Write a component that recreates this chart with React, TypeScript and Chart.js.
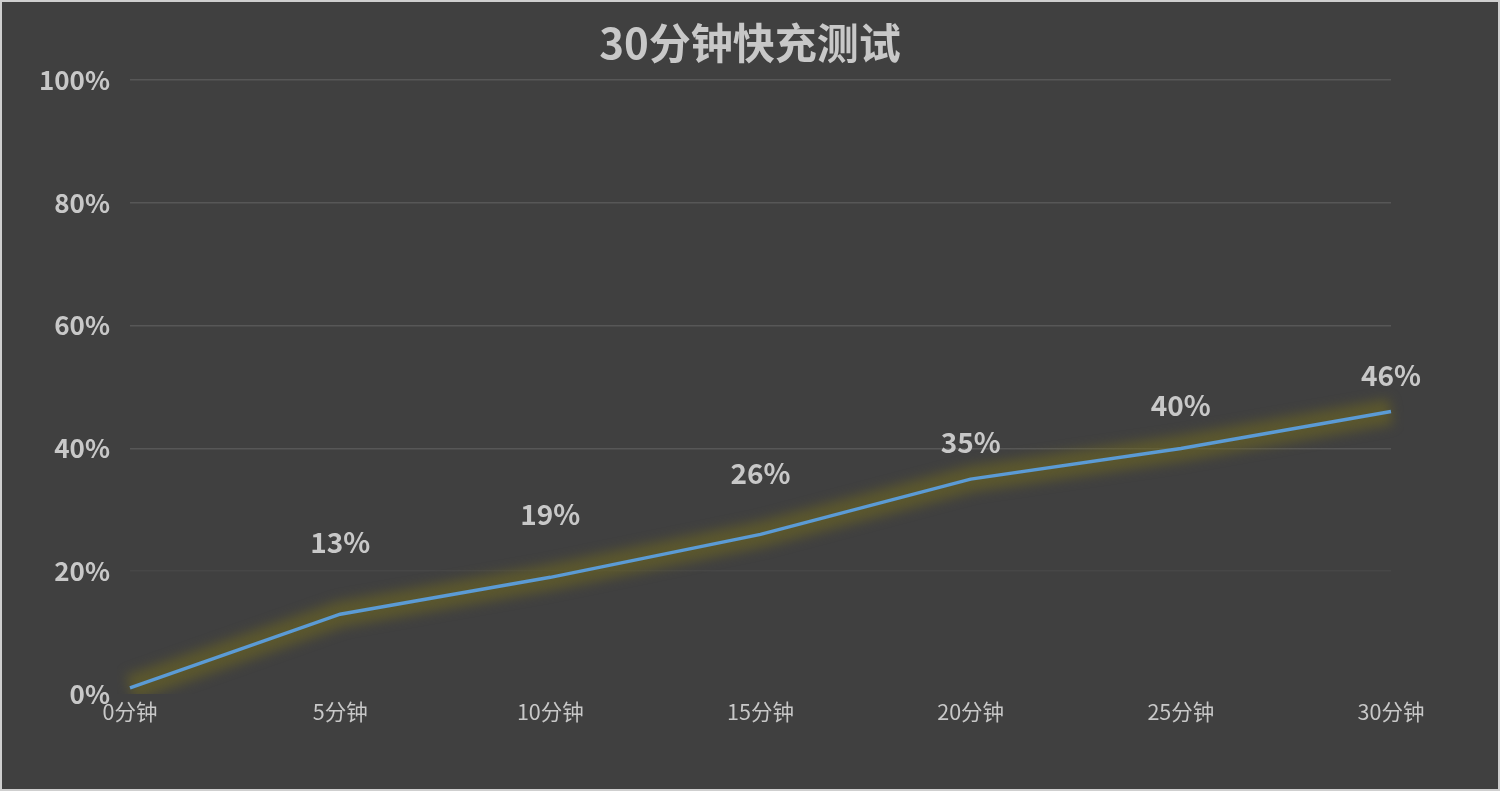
import React, { useEffect, useRef } from "react";
import { Chart, registerables } from "chart.js";

Chart.register(...registerables);

const categories = ["0分钟", "5分钟", "10分钟", "15分钟", "20分钟", "25分钟", "30分钟"];
const chargeValues = [1, 13, 19, 26, 35, 40, 46];
const dataLabels = ["", "13%", "19%", "26%", "35%", "40%", "46%"];
const yTicks = [0, 20, 40, 60, 80, 100];
const chartTitle = "30分钟快充测试";

// label lift (px above each point), styling only
const labelLift = [0, 72, 63, 61, 37, 43, 36];

const FONT = '"Noto Sans CJK SC", "Noto Sans", sans-serif';
const TEXT = "#c8c8c8";

const glowPlugin = {
  id: "glowPlugin",
  beforeDatasetDraw(chart: any, args: any) {
    if (args.index === 1) {
      const ctx = chart.ctx;
      ctx.save();
      ctx.filter = "blur(6px)";
    }
  },
  afterDatasetDraw(chart: any, args: any) {
    if (args.index === 1) {
      chart.ctx.restore();
    }
  },
};

const titlePlugin = {
  id: "titlePlugin",
  afterDraw(chart: any) {
    const ctx = chart.ctx;
    ctx.save();
    ctx.font = `bold 42px ${FONT}`;
    ctx.fillStyle = TEXT;
    ctx.textAlign = "center";
    ctx.textBaseline = "middle";
    ctx.fillText(chartTitle, chart.width / 2, 41);
    ctx.restore();
  },
};

const labelPlugin = {
  id: "labelPlugin",
  afterDatasetsDraw(chart: any) {
    const meta = chart.getDatasetMeta(0);
    const ctx = chart.ctx;
    ctx.save();
    ctx.font = `bold 28px ${FONT}`;
    ctx.fillStyle = TEXT;
    ctx.textAlign = "center";
    ctx.textBaseline = "middle";
    meta.data.forEach((pt: any, i: number) => {
      const txt = dataLabels[i];
      if (!txt) return;
      ctx.fillText(txt, pt.x, pt.y - labelLift[i]);
    });
    ctx.restore();
  },
};

export default function App() {
  const ref = useRef<HTMLCanvasElement | null>(null);

  useEffect(() => {
    if (!ref.current) return;
    const chart = new Chart(ref.current, {
      type: "line",
      data: {
        labels: categories,
        datasets: [
          {
            label: "电量",
            data: chargeValues,
            borderColor: "#5b9bd5",
            borderWidth: 3.5,
            pointRadius: 0,
            tension: 0,
            fill: false,
            order: 0,
          },
          {
            label: "glow",
            data: chargeValues,
            borderColor: "rgba(108,102,34,0.6)",
            borderWidth: 26,
            pointRadius: 0,
            tension: 0,
            fill: false,
            order: 1,
          },
        ],
      },
      options: {
        animation: false,
        responsive: true,
        maintainAspectRatio: false,
        layout: { padding: { left: 0, right: 107, top: 78, bottom: 0 } },
        plugins: {
          legend: { display: false },
          tooltip: { enabled: false },
          title: { display: false },
        },
        scales: {
          x: {
            offset: false,
            grid: { display: false, drawTicks: false },
            border: { display: false },
            ticks: {
              color: TEXT,
              font: { family: FONT, size: 21.5 },
              padding: 5,
              maxRotation: 0,
              autoSkip: false,
            },
            afterFit(scale: any) {
              scale.height = 95;
            },
          },
          y: {
            min: 0,
            max: 100,
            afterBuildTicks(scale: any) {
              scale.ticks = yTicks.map((v) => ({ value: v }));
            },
            grid: {
              drawTicks: false,
              lineWidth: 1.5,
              color: (c: any) => {
                const v = c.tick ? c.tick.value : 0;
                if (v === 0) return "rgba(0,0,0,0)";
                if (v === 20) return "#474747";
                return "#575757";
              },
            },
            border: { display: false },
            ticks: {
              color: TEXT,
              font: { family: FONT, size: 26, weight: "600" },
              padding: 20,
              callback: (v: any) => `${v}%`,
            },
            afterFit(scale: any) {
              scale.width = 128;
            },
          },
        },
      },
      plugins: [glowPlugin, labelPlugin, titlePlugin],
    });
    return () => chart.destroy();
  }, []);

  return (
    <div
      style={{
        position: "fixed",
        left: 0,
        top: 0,
        width: 1500,
        height: 791,
        boxSizing: "border-box",
        border: "2px solid #cfcfcf",
        background: "#404040",
      }}
    >
      <div style={{ position: "relative", width: 1496, height: 787 }}>
        <canvas ref={ref} />
      </div>
    </div>
  );
}
